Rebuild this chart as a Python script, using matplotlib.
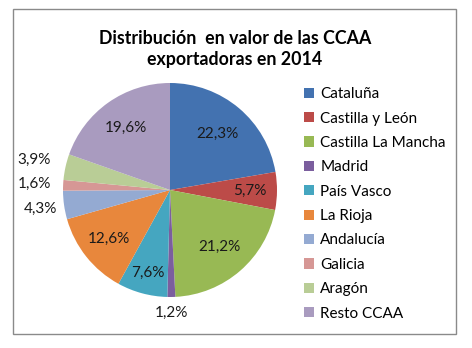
import numpy as np
import matplotlib
matplotlib.use("Agg")
import matplotlib.pyplot as plt
from matplotlib.patches import Patch, Rectangle

plt.rcParams['font.family'] = ['Lato', 'DejaVu Sans']

# Data
regions = ["Cataluña", "Castilla y León", "Castilla La Mancha", "Madrid",
           "País Vasco", "La Rioja", "Andalucía", "Galicia", "Aragón", "Resto CCAA"]
shares = [22.3, 5.7, 21.2, 1.2, 7.6, 12.6, 4.3, 1.6, 3.9, 19.6]
colors = ["#4372B0", "#BC4B48", "#98B954", "#7B5E9E", "#45A6C0",
          "#E8873C", "#94AAD2", "#D69795", "#B9CD96", "#A99BBF"]
# distance of each value label from the centre (fraction of radius)
label_dist = [0.69, 0.75, 0.71, 1.15, 0.80, 0.73, 1.22, 1.27, 1.30, 0.71]

W, H = 472, 348
fig = plt.figure(figsize=(W / 100, H / 100), dpi=100)

# outer chart frame
fig.patches.append(Rectangle((13 / W, (H - 334) / H), 443 / W, 325 / H,
                             transform=fig.transFigure, fill=False,
                             edgecolor="#8a8a8a", linewidth=1.0))

cx, cy, r = 170, 190, 107
ax = fig.add_axes([(cx - r) / W, (H - cy - r) / H, 2 * r / W, 2 * r / H])
wedges, _ = ax.pie(shares, colors=colors, startangle=90, counterclock=False,
                   radius=1.0, center=(0, 0), frame=True,
                   wedgeprops=dict(linewidth=0))
ax.set_xlim(-1, 1)
ax.set_ylim(-1, 1)
ax.axis("off")

for w, v, d in zip(wedges, shares, label_dist):
    ang = np.deg2rad((w.theta1 + w.theta2) / 2)
    ax.text(d * np.cos(ang), d * np.sin(ang), f"{v:.1f}%".replace(".", ","),
            ha="center", va="center", fontsize=11, color="#1a1a1a")

fig.text(235 / W, 1 - 38 / H, "Distribución  en valor de las CCAA",
         ha="center", va="center", fontsize=12.8, fontweight="bold")
fig.text(235 / W, 1 - 59 / H, "exportadoras en 2014",
         ha="center", va="center", fontsize=12.8, fontweight="bold")

handles = [Patch(facecolor=c, edgecolor="none") for c in colors]
fig.legend(handles, regions, loc="upper left",
           bbox_to_anchor=(298 / W, 1 - 81 / H), frameon=False,
           fontsize=11, handlelength=0.65, handleheight=0.65,
           handletextpad=0.4, labelspacing=0.68, borderaxespad=0)

fig.savefig("out.png", dpi=100)
